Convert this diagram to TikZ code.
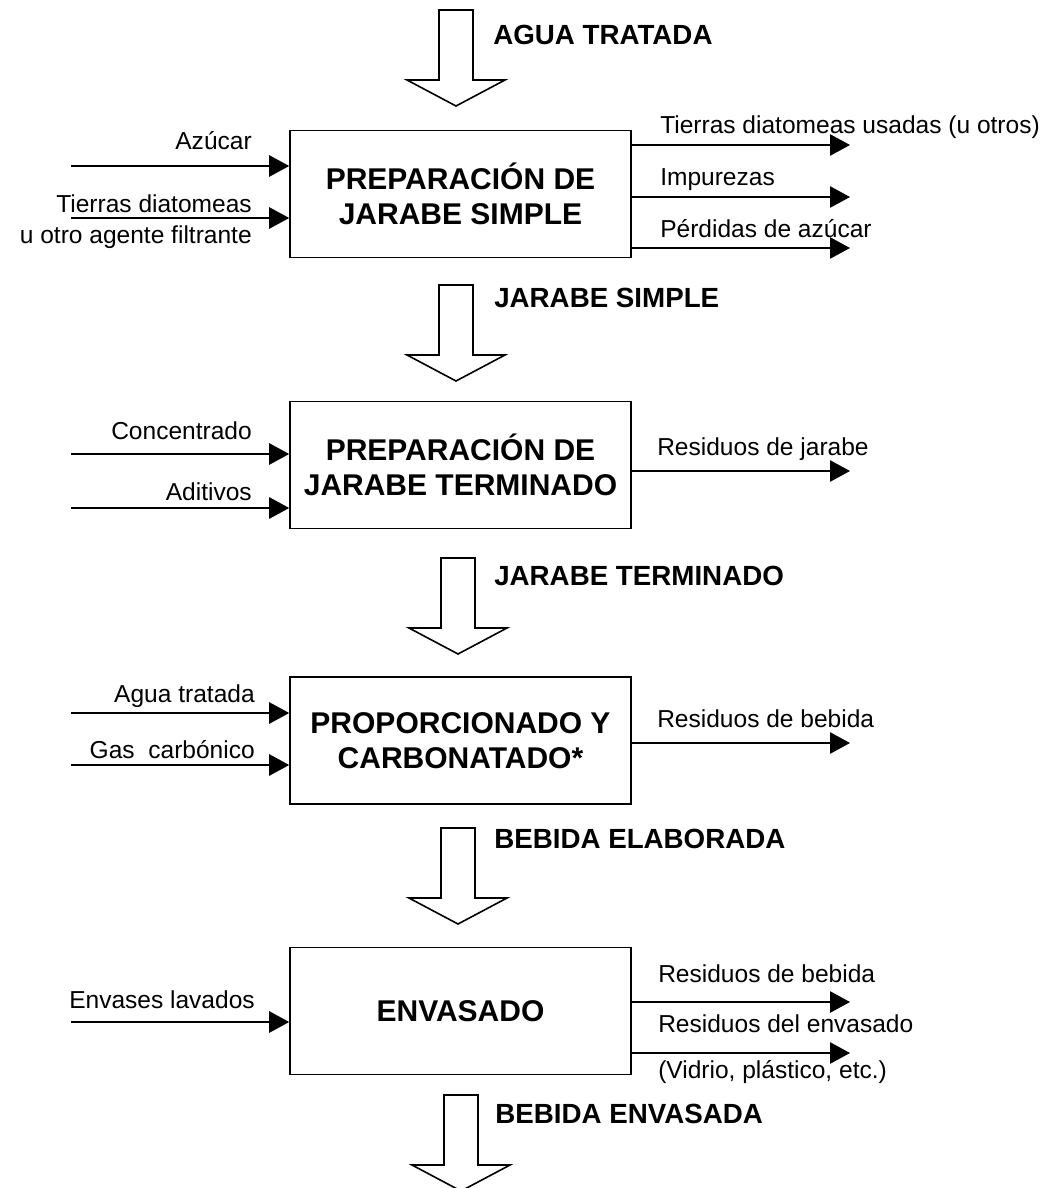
\documentclass[tikz,border=0pt]{standalone}
\usepackage{fontspec}
\setmainfont{Liberation Sans}
\usetikzlibrary{arrows.meta}

\begin{document}
\begin{tikzpicture}[x=0.75pt,y=-0.75pt,
		caja/.style={draw,line width=1.2pt,minimum width=255.75pt,minimum height=95pt,inner sep=0pt,align=center,font=\fontsize{22.5}{26.5}\selectfont\bfseries},
		flujo/.style={line width=1.2pt,-{Triangle[length=15pt,width=16pt]}},
		etiq/.style={inner sep=0pt,font=\fontsize{18.4}{22}\selectfont},
		corriente/.style={inner sep=0pt,anchor=base west,font=\fontsize{20.8}{25}\selectfont\bfseries},
		bloque/.pic={\draw[line width=1.2pt,line join=miter] (-17,0) -- (17,0) -- (17,70) -- (49,70) -- (0,96) -- (-49,70) -- (-17,70) -- cycle;}]
			\useasboundingbox (0,0) rectangle (1059,1188);
			\node[caja] (prep1) at (460.5,194) {PREPARACIÓN DE\\JARABE SIMPLE};
			\node[caja] (prep2) at (460.5,465) {PREPARACIÓN DE\\JARABE TERMINADO};
			\node[caja] (prop) at (460.5,740.5) {PROPORCIONADO Y\\CARBONATADO*};
			\node[caja] (env) at (460.5,1011) {ENVASADO};
			\foreach \x/\y in {456/10,456/285,458/558,458/828,461/1095}
				\pic at (\x,\y) {bloque};
			\node[corriente] (c-agua) at (493,45) {AGUA TRATADA};
			\node[corriente] (c-simple) at (494,307) {JARABE SIMPLE};
			\node[corriente] (c-term) at (494,585) {JARABE TERMINADO};
			\node[corriente] (c-elab) at (494,848) {BEBIDA ELABORADA};
			\node[corriente] (c-envas) at (495,1123) {BEBIDA ENVASADA};
			\coordinate (azucar) at (71,166);
			\coordinate (tierras) at (71,218);
			\coordinate (concen) at (71,454);
			\coordinate (aditiv) at (71,508);
			\coordinate (aguat) at (71,713);
			\coordinate (gas) at (71,765);
			\coordinate (envlav) at (71,1022);
			\coordinate (s-tierras) at (850,145);
			\coordinate (s-impur) at (850,197);
			\coordinate (s-perd) at (850,248);
			\coordinate (s-jarabe) at (850,471);
			\coordinate (s-bebida) at (850,743);
			\coordinate (s-bebida2) at (850,1002);
			\coordinate (s-envas) at (850,1053);
			\draw[flujo] (azucar) -- (azucar -| prep1.west);
			\draw[flujo] (tierras) -- (tierras -| prep1.west);
			\draw[flujo] (concen) -- (concen -| prep2.west);
			\draw[flujo] (aditiv) -- (aditiv -| prep2.west);
			\draw[flujo] (aguat) -- (aguat -| prop.west);
			\draw[flujo] (gas) -- (gas -| prop.west);
			\draw[flujo] (envlav) -- (envlav -| env.west);
			\draw[flujo] (s-tierras -| prep1.east) -- (s-tierras);
			\draw[flujo] (s-impur -| prep1.east) -- (s-impur);
			\draw[flujo] (s-perd -| prep1.east) -- (s-perd);
			\draw[flujo] (s-jarabe -| prep2.east) -- (s-jarabe);
			\draw[flujo] (s-bebida -| prop.east) -- (s-bebida);
			\draw[flujo] (s-bebida2 -| env.east) -- (s-bebida2);
			\draw[flujo] (s-envas -| env.east) -- (s-envas);
			\node[etiq,anchor=base east] (l-azucar) at (252,149) {Azúcar};
			\node[etiq,anchor=base east] (l-tierras) at (252,212) {Tierras diatomeas};
			\node[etiq,anchor=base east] (l-agente) at (252,243) {u otro agente filtrante};
			\node[etiq,anchor=base east] (l-concen) at (252,439) {Concentrado};
			\node[etiq,anchor=base east] (l-aditiv) at (252,500) {Aditivos};
			\node[etiq,anchor=base east] (l-aguat) at (255,702) {Agua tratada};
			\node[etiq,anchor=base east] (l-gas) at (255,758) {Gas~ carbónico};
			\node[etiq,anchor=base east] (l-envlav) at (255,1008) {Envases lavados};
			\node[etiq,anchor=base west] (r-tierras) at (660,133) {Tierras diatomeas usadas (u otros)};
			\node[etiq,anchor=base west] (r-impur) at (660,185) {Impurezas};
			\node[etiq,anchor=base west] (r-perd) at (660,237) {Pérdidas de azúcar};
			\node[etiq,anchor=base west] (r-jarabe) at (657,455) {Residuos de jarabe};
			\node[etiq,anchor=base west] (r-bebida) at (657,727) {Residuos de bebida};
			\node[etiq,anchor=base west] (r-bebida2) at (658,982) {Residuos de bebida};
			\node[etiq,anchor=base west] (r-envas) at (658,1032) {Residuos del envasado};
			\node[etiq,anchor=base west] (r-vidrio) at (658,1078) {(Vidrio, plástico, etc.)};
		\end{tikzpicture}
\end{document}
